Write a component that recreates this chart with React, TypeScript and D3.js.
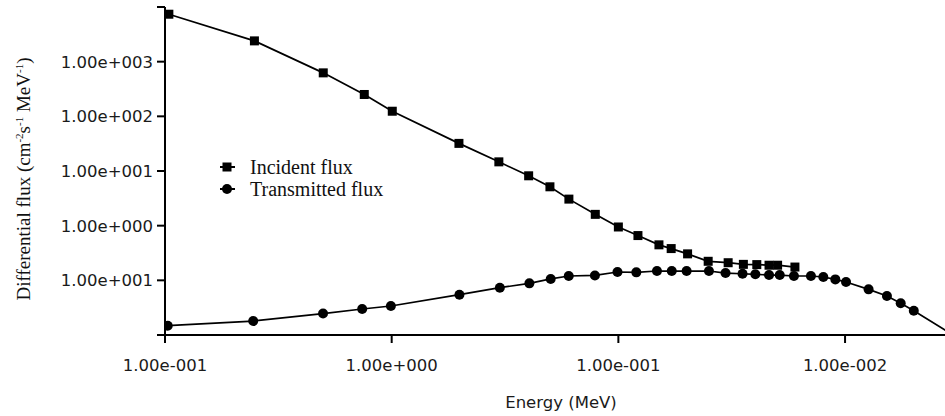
import * as d3 from "d3"

// energy (x) and flux (y)
const incidentX = [0.104, 0.248, 0.499, 0.757, 1.006, 1.98, 2.97, 4.02, 4.99, 6.05, 7.91, 10.0, 12.2, 15.1, 17.1, 20.2, 24.9, 30.5, 35.6, 40.8, 46.2, 50.4, 60.1]
const incidentY = [7380, 2400, 624, 251, 124, 32.0, 14.7, 8.17, 5.14, 3.06, 1.61, 0.946, 0.659, 0.446, 0.381, 0.305, 0.223, 0.21, 0.196, 0.194, 0.189, 0.189, 0.175]

const transmittedX = [0.1028, 0.245, 0.498, 0.741, 0.992, 1.99, 3.0, 4.05, 5.03, 6.04, 7.88, 9.91, 12.0, 14.8, 17.2, 20.0, 25.1, 29.7, 35.3, 40.2, 46.2, 51.5, 59.5, 70.7, 80.2, 90.6, 101, 127, 153, 176, 201, 305]
const transmittedY = [0.0148, 0.018, 0.0247, 0.0299, 0.0339, 0.0546, 0.0733, 0.0881, 0.106, 0.12, 0.123, 0.142, 0.14, 0.148, 0.148, 0.148, 0.148, 0.136, 0.132, 0.129, 0.125, 0.125, 0.12, 0.12, 0.115, 0.104, 0.0931, 0.0684, 0.0516, 0.038, 0.0278, 0.0096]

const xTicks = [0.1, 1, 10, 100]
const xTickLabels = ["1.00e-001", "1.00e+000", "1.00e-001", "1.00e-002"]
const yTicks = [1e4, 1e3, 1e2, 1e1, 1e0, 1e-1, 1e-2]
const yTickLabels = ["", "1.00e+003", "1.00e+002", "1.00e+001", "1.00e+000", "1.00e+001", ""]

const seriesNames = ["Incident flux", "Transmitted flux"]

const width = 945
const height = 416
const margin = { top: 7, right: 0, bottom: 81, left: 165 }

export default function App() {
  const x = d3.scaleLog().domain([0.1, 276]).range([margin.left, width - margin.right])
  const y = d3.scaleLog().domain([1e-2, 1e4]).range([height - margin.bottom, margin.top])

  const incident = incidentX.map((v, i) => [v, incidentY[i]] as [number, number])
  const transmitted = transmittedX.map((v, i) => [v, transmittedY[i]] as [number, number])

  const line = d3
    .line<[number, number]>()
    .x((d) => x(d[0]))
    .y((d) => y(d[1]))

  const x0 = margin.left
  const y0 = height - margin.bottom
  const sans = "'DejaVu Sans', sans-serif"
  const serif = "'Liberation Serif', 'Times New Roman', serif"

  return (
    <svg width={width} height={height} style={{ position: "absolute", left: 0, top: 0, background: "#fff" }}>
      <defs>
        <clipPath id="plot">
          <rect x={x0} y={0} width={width - x0} height={y0 + 2} />
        </clipPath>
      </defs>

      {/* axes */}
      <line x1={x0} x2={x0} y1={margin.top} y2={y0 + 8} stroke="#000" strokeWidth={2} />
      <line x1={x0 - 8} x2={width} y1={y0} y2={y0} stroke="#000" strokeWidth={2} />

      {yTicks.map((t, i) => (
        <g key={"y" + i}>
          <line x1={x0 - 8} x2={x0} y1={y(t)} y2={y(t)} stroke="#000" strokeWidth={2} />
          <text x={x0 - 12} y={y(t)} dy="0.36em" textAnchor="end" fontFamily={sans} fontSize={16.5} fill="#1a1a1a">
            {yTickLabels[i]}
          </text>
        </g>
      ))}

      {xTicks.map((t, i) => (
        <g key={"x" + i}>
          <line x1={x(t)} x2={x(t)} y1={y0} y2={y0 + 8} stroke="#000" strokeWidth={2} />
          <text x={x(t)} y={365} dy="0.36em" textAnchor="middle" fontFamily={sans} fontSize={16.5} fill="#1a1a1a">
            {xTickLabels[i]}
          </text>
        </g>
      ))}

      <text x={561} y={402} dy="0.36em" textAnchor="middle" fontFamily={sans} fontSize={16.5} fill="#1a1a1a">
        Energy (MeV)
      </text>

      <text
        transform={`translate(23,${(margin.top + y0) / 2 + 8}) rotate(-90)`}
        textAnchor="middle"
        dy="0.36em"
        fontFamily={serif}
        fontSize={19}
        fill="#111"
      >
        Differential flux (cm<tspan dy="-7" fontSize={11}>-2</tspan>
        <tspan dy="7">s</tspan>
        <tspan dy="-7" fontSize={11}>-1</tspan>
        <tspan dy="7"> MeV</tspan>
        <tspan dy="-7" fontSize={11}>-1</tspan>
        <tspan dy="7">)</tspan>
      </text>

      {/* series */}
      <g clipPath="url(#plot)">
        <path d={line(incident) ?? ""} fill="none" stroke="#000" strokeWidth={1.7} />
        <path d={line(transmitted) ?? ""} fill="none" stroke="#000" strokeWidth={1.7} />
        {incident.map((d, i) => (
          <rect key={"s" + i} x={x(d[0]) - 4.5} y={y(d[1]) - 4.5} width={9} height={9} fill="#000" />
        ))}
        {transmitted.map((d, i) => (
          <circle key={"c" + i} cx={x(d[0])} cy={y(d[1])} r={5} fill="#000" />
        ))}
      </g>

      {/* legend */}
      <g>
        <line x1={220} x2={235} y1={167} y2={167} stroke="#000" strokeWidth={2} />
        <rect x={222.5} y={162.5} width={9} height={9} fill="#000" />
        <text x={250} y={167} dy="0.33em" fontFamily={serif} fontSize={20} fill="#111">
          {seriesNames[0]}
        </text>
        <line x1={220} x2={235} y1={189} y2={189} stroke="#000" strokeWidth={2} />
        <circle cx={227} cy={189} r={5} fill="#000" />
        <text x={250} y={189} dy="0.33em" fontFamily={serif} fontSize={20} fill="#111">
          {seriesNames[1]}
        </text>
      </g>
    </svg>
  )
}
